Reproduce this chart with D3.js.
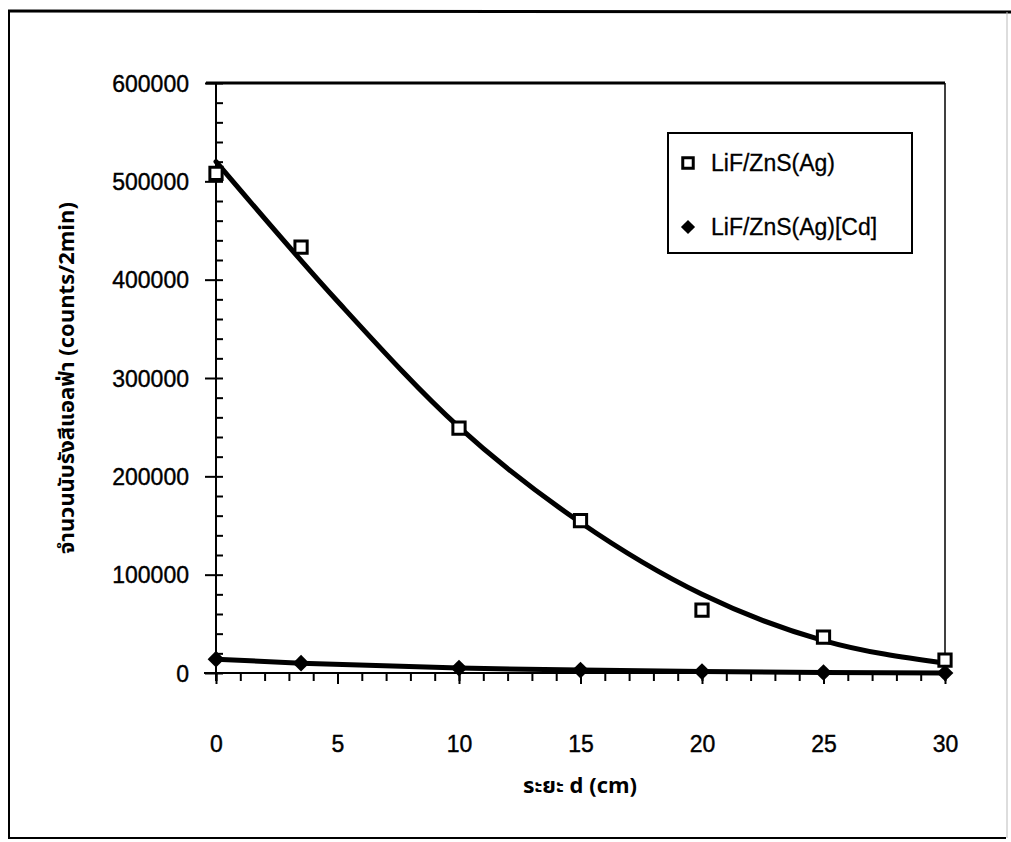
<!DOCTYPE html>
<html><head><meta charset="utf-8">
<script src="https://cdn.jsdelivr.net/npm/d3@7/dist/d3.min.js"></script>
<style>body{margin:0;background:#fff}svg{display:block}</style>
</head><body>
<svg id="chart" width="1011" height="842"></svg>
<script>
// ---- data ----
const distances = [0, 3.5, 10, 15, 20, 25, 30];
const lifCounts = [508000, 433000, 249000, 155000, 64000, 36500, 13000];
const cdCounts = [14000, 10000, 5000, 3000, 1500, 500, 0];
// trend curve of the LiF/ZnS(Ag) series as drawn in the reference
const trendX = [0, 5, 10, 15, 20, 25, 30];
const trendY = [520000, 378000, 250000, 153000, 80000, 33000, 10000];
const xTickValues = [0, 5, 10, 15, 20, 25, 30];
const yTickValues = [0, 100000, 200000, 300000, 400000, 500000, 600000];
const seriesNames = ["LiF/ZnS(Ag)", "LiF/ZnS(Ag)[Cd]"];
const xTitle = "ระยะ d  (cm)";
const yTitle = "จำนวนนับรังสีแอลฟ่า (counts/2min)";

const svg = d3.select("#chart");
const font = "'Liberation Sans', Arial, sans-serif";
const thaiFont = "'Noto Sans Thai','Loma','Garuda','Tlwg Typo','Liberation Sans',sans-serif";

const L = 216, R = 945, T = 83, B = 673;
const x = d3.scaleLinear().domain([0, 30]).range([L, R]);
const y = d3.scaleLinear().domain([0, 600000]).range([B, T]);

// outer frame
svg.append("line").attr("x1", 8).attr("x2", 1011).attr("y1", 11).attr("y2", 12)
  .attr("stroke", "#000").attr("stroke-width", 3);
svg.append("line").attr("x1", 9).attr("x2", 9).attr("y1", 10).attr("y2", 838)
  .attr("stroke", "#000").attr("stroke-width", 2);
svg.append("line").attr("x1", 8).attr("x2", 1006).attr("y1", 838).attr("y2", 838)
  .attr("stroke", "#000").attr("stroke-width", 2);
svg.append("line").attr("x1", 1007).attr("x2", 1007).attr("y1", 12).attr("y2", 838)
  .attr("stroke", "#bbb").attr("stroke-width", 1);

// plot frame top & right
svg.append("line").attr("x1", x(0) - 10).attr("x2", R).attr("y1", T).attr("y2", T)
  .attr("stroke", "#000").attr("stroke-width", 3);
svg.append("line").attr("x1", R).attr("x2", R).attr("y1", T).attr("y2", B)
  .attr("stroke", "#000").attr("stroke-width", 1.5);

// y axis: minor ticks inside, major ticks crossing
const yMinor = d3.range(0, 600001, 20000);
svg.append("g").attr("transform", `translate(${L},0)`)
  .call(d3.axisRight(y).tickValues(yMinor).tickSize(7).tickFormat(""))
  .call(g => g.selectAll("line").attr("stroke", "#000").attr("stroke-width", 2))
  .call(g => g.select(".domain").remove());
const yAxis = svg.append("g").attr("transform", `translate(${L},0)`)
  .call(d3.axisLeft(y).tickValues(yTickValues).tickSize(11).tickPadding(16).tickFormat(d3.format("d")));
yAxis.select(".domain").attr("stroke", "#000").attr("stroke-width", 2).attr("d", `M0,${T}V${B + 8}`);
yAxis.selectAll("line").attr("stroke", "#000").attr("stroke-width", 2);
yAxis.selectAll("text").attr("font-family", font).attr("font-size", 23).attr("fill", "#000")
  .attr("stroke", "#000").attr("stroke-width", 0.4).attr("dy", "0.35em");

// x axis: ticks downward
const xMinor = d3.range(0, 31, 1);
svg.append("g").attr("transform", `translate(0,${B})`)
  .call(d3.axisBottom(x).tickValues(xMinor).tickSize(8).tickFormat(""))
  .call(g => g.selectAll("line").attr("stroke", "#000").attr("stroke-width", 2))
  .call(g => g.select(".domain").remove());
const xAxis = svg.append("g").attr("transform", `translate(0,${B})`)
  .call(d3.axisBottom(x).tickValues(xTickValues).tickSize(11).tickPadding(52));
xAxis.select(".domain").attr("stroke", "#000").attr("stroke-width", 2).attr("d", `M${L - 12},0H${R}`);
xAxis.selectAll("line").attr("stroke", "#000").attr("stroke-width", 2);
xAxis.selectAll("text").attr("font-family", font).attr("font-size", 23).attr("fill", "#000")
  .attr("stroke", "#000").attr("stroke-width", 0.4);

// trend curve
svg.append("path")
  .datum(trendX.map((d, i) => [d, trendY[i]]))
  .attr("fill", "none").attr("stroke", "#000").attr("stroke-width", 5)
  .attr("stroke-linecap", "round")
  .attr("d", d3.line().x(d => x(d[0])).y(d => y(d[1])).curve(d3.curveMonotoneX));

// Cd series line
svg.append("path")
  .datum(distances.map((d, i) => [d, cdCounts[i]]))
  .attr("fill", "none").attr("stroke", "#000").attr("stroke-width", 5)
  .attr("d", d3.line().x(d => x(d[0])).y(d => y(d[1])));

// markers
const sq = d3.symbol().type(d3.symbolSquare).size(150);
const dia = d3.symbol().type(d3.symbolSquare).size(140);
svg.append("g").selectAll("path").data(distances.map((d, i) => [d, lifCounts[i]])).join("path")
  .attr("transform", d => `translate(${x(d[0])},${y(d[1])})`)
  .attr("d", sq).attr("fill", "#fff").attr("stroke", "#000").attr("stroke-width", 3);
svg.append("g").selectAll("path").data(distances.map((d, i) => [d, cdCounts[i]])).join("path")
  .attr("transform", d => `translate(${x(d[0])},${y(d[1])}) rotate(45)`)
  .attr("d", dia).attr("fill", "#000");

// legend
const lg = svg.append("g");
lg.append("rect").attr("x", 668).attr("y", 133).attr("width", 244).attr("height", 120)
  .attr("fill", "#fff").attr("stroke", "#000").attr("stroke-width", 2);
const legendRows = [{name: seriesNames[0], sym: "sq", yy: 163}, {name: seriesNames[1], sym: "dia", yy: 227}];
legendRows.forEach(r => {
  if (r.sym === "sq") {
    lg.append("path").attr("transform", `translate(688,${r.yy})`).attr("d", d3.symbol().type(d3.symbolSquare).size(110))
      .attr("fill", "#fff").attr("stroke", "#000").attr("stroke-width", 3);
  } else {
    lg.append("path").attr("transform", `translate(688,${r.yy}) rotate(45)`).attr("d", d3.symbol().type(d3.symbolSquare).size(100))
      .attr("fill", "#000");
  }
  lg.append("text").attr("x", 711).attr("y", r.yy).attr("dy", "0.35em")
    .attr("font-family", font).attr("font-size", 23).attr("fill", "#000")
    .attr("stroke", "#000").attr("stroke-width", 0.3).text(r.name);
});

// axis titles
svg.append("text").attr("x", 580).attr("y", 785).attr("text-anchor", "middle").attr("dy", "0.35em")
  .attr("font-family", thaiFont).attr("font-size", 22).attr("font-weight", "bold").attr("fill", "#000")
  .text(xTitle);
svg.append("text").attr("transform", "translate(66,378) rotate(-90)")
  .attr("text-anchor", "middle").attr("dy", "0.35em")
  .attr("font-family", thaiFont).attr("font-size", 22).attr("font-weight", "bold").attr("fill", "#000")
  .text(yTitle);
</script>
</body></html>
